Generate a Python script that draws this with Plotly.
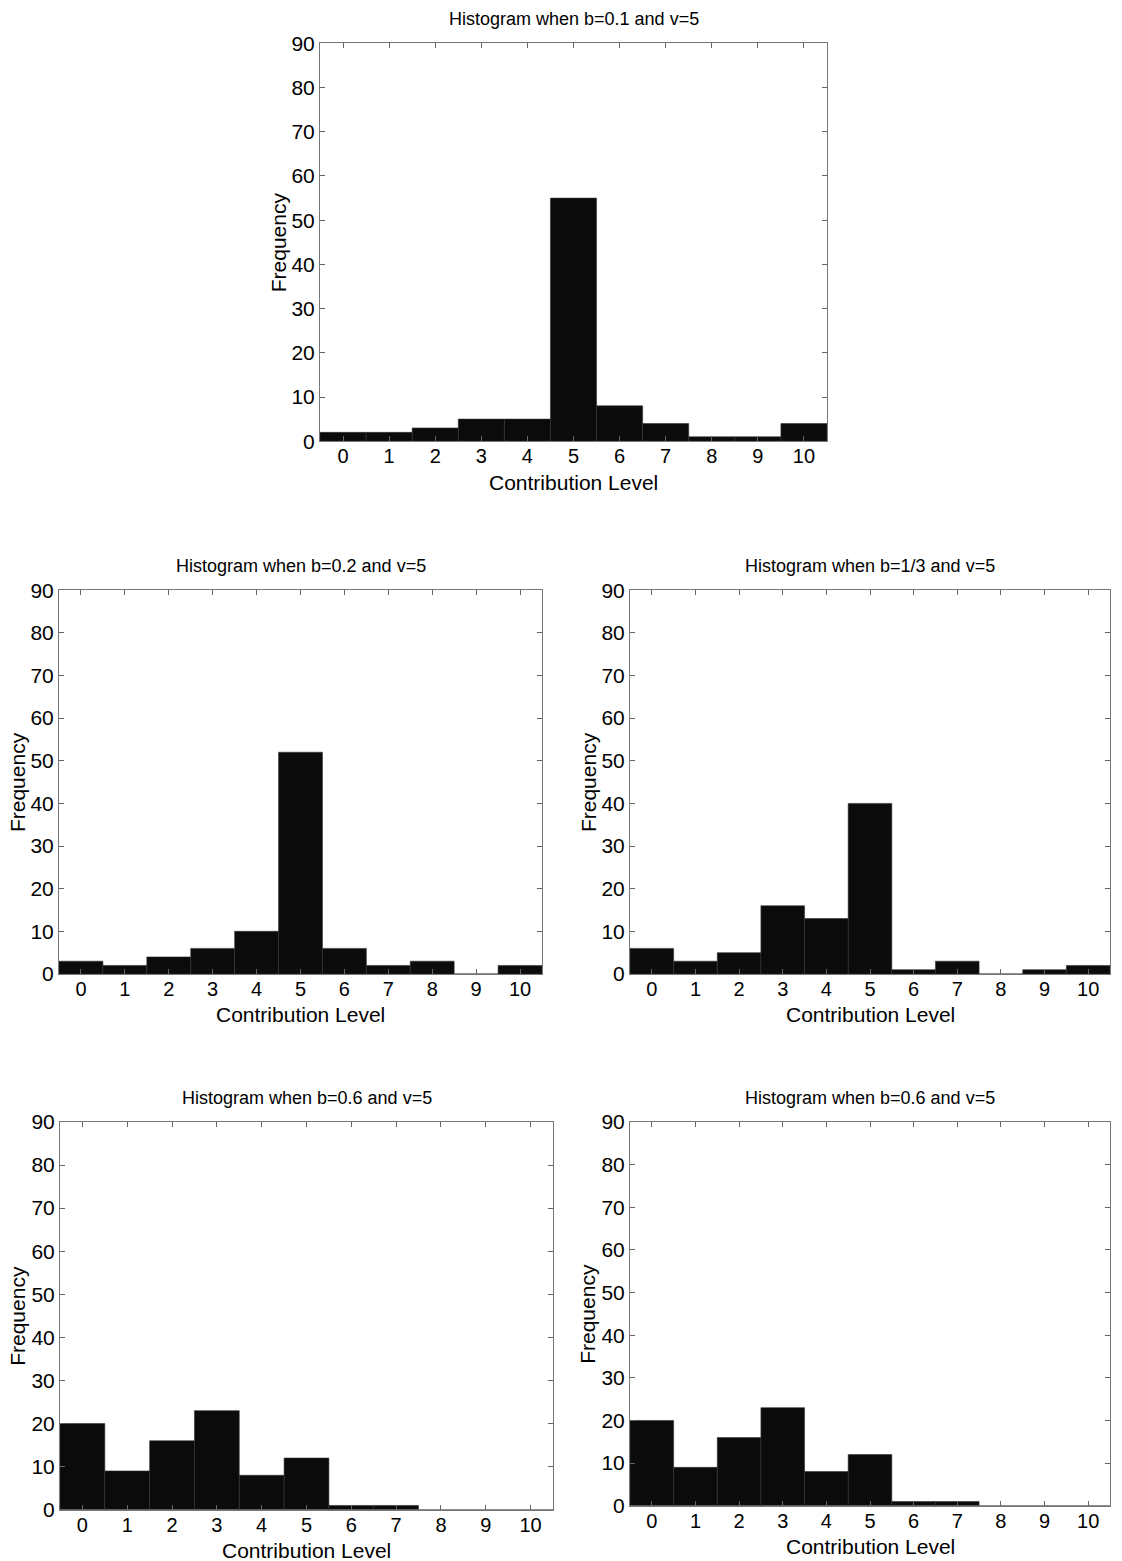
import plotly.graph_objects as go

levels = list(range(11))
titles = [
    "Histogram when b=0.1 and v=5",
    "Histogram when b=0.2 and v=5",
    "Histogram when b=1/3 and v=5",
    "Histogram when b=0.6 and v=5",
    "Histogram when b=0.6 and v=5",
]
freq_b01 = [2, 2, 3, 5, 5, 55, 8, 4, 1, 1, 4]
freq_b02 = [3, 2, 4, 6, 10, 52, 6, 2, 3, 0, 2]
freq_b13 = [6, 3, 5, 16, 13, 40, 1, 3, 0, 1, 2]
freq_b06a = [20, 9, 16, 23, 8, 12, 1, 1, 0, 0, 0]
freq_b06b = [20, 9, 16, 23, 8, 12, 1, 1, 0, 0, 0]
y_ticks = [0, 10, 20, 30, 40, 50, 60, 70, 80, 90]

series = [freq_b01, freq_b02, freq_b13, freq_b06a, freq_b06b]

W, H = 1122, 1561
# panel pixel boxes: (left, right, top, bottom)
boxes = [
    (320, 827, 42, 440),
    (59, 542, 589, 973),
    (630, 1110, 589, 973),
    (60, 553, 1121, 1509),
    (630, 1110, 1121, 1505),
]


def py(y_px):
    # paper fraction for a target pixel row (compensates the observed vertical rendering scale)
    y_in = (y_px - 10.6) / 0.9857
    return 1 - y_in / H


FONT = "Liberation Sans, Arial, sans-serif"
fig = go.Figure()
annotations = []
layout = dict(
    width=W, height=H,
    margin=dict(l=0, r=0, t=0, b=0),
    paper_bgcolor="white", plot_bgcolor="white",
    showlegend=False,
    font=dict(family=FONT, color="black"),
    bargap=0,
)

for i, (vals, title, box) in enumerate(zip(series, titles, boxes)):
    n = "" if i == 0 else str(i + 1)
    l, r, t, b = box
    xd = [l / W, r / W]
    yd = [py(b), py(t)]
    fig.add_trace(go.Bar(
        x=levels, y=vals, width=1.0,
        marker=dict(color="#0b0b0b", line=dict(color="#333333", width=0.6)),
        xaxis="x" + n, yaxis="y" + n, hoverinfo="skip",
    ))
    layout["xaxis" + n] = dict(
        domain=xd, anchor="y" + n, range=[-0.5, 10.5],
        tickmode="array", tickvals=levels, ticktext=[str(v) for v in levels],
        ticks="inside", ticklen=5, tickcolor="#666666",
        showline=True, linecolor="#777777", linewidth=1, mirror="ticks",
        showgrid=False, zeroline=False, ticklabelstandoff=-3,
        tickfont=dict(size=20, family=FONT, color="black"),
    )
    layout["yaxis" + n] = dict(
        domain=yd, anchor="x" + n, range=[0, 90],
        tickmode="array", tickvals=y_ticks, ticktext=[str(v) for v in y_ticks],
        ticks="inside", ticklen=5, tickcolor="#666666",
        showline=True, linecolor="#777777", linewidth=1, mirror="ticks",
        showgrid=False, zeroline=False,
        tickfont=dict(size=21, family=FONT, color="black"),
    )
    cx = (l + r) / 2 / W
    annotations.append(dict(
        text=title, xref="paper", yref="paper", x=cx, y=py(t - 24),
        xanchor="center", yanchor="middle", showarrow=False,
        font=dict(size=18, family=FONT, color="black"),
    ))
    annotations.append(dict(
        text="Contribution Level", xref="paper", yref="paper", x=cx,
        y=py(b + 41), xanchor="center", yanchor="middle", showarrow=False,
        font=dict(size=21, family=FONT, color="black"),
    ))
    annotations.append(dict(
        text="Frequency", xref="paper", yref="paper", x=(l - 42) / W,
        y=py((t + b) / 2), xanchor="center", yanchor="middle",
        textangle=-90, showarrow=False,
        font=dict(size=21, family=FONT, color="black"),
    ))

layout["annotations"] = annotations
fig.update_layout(**layout)
fig.write_html(
    "out.html",
    config={"displayModeBar": False, "staticPlot": True},
    post_script=(
        "document.documentElement.style.margin='0';"
        "document.body.style.margin='0';document.body.style.padding='0';"
        "document.body.style.overflow='hidden';"
        "var d=document.getElementsByClassName('plotly-graph-div')[0];"
        "d.style.position='fixed';d.style.top='0px';d.style.left='0px';"
    ),
)
